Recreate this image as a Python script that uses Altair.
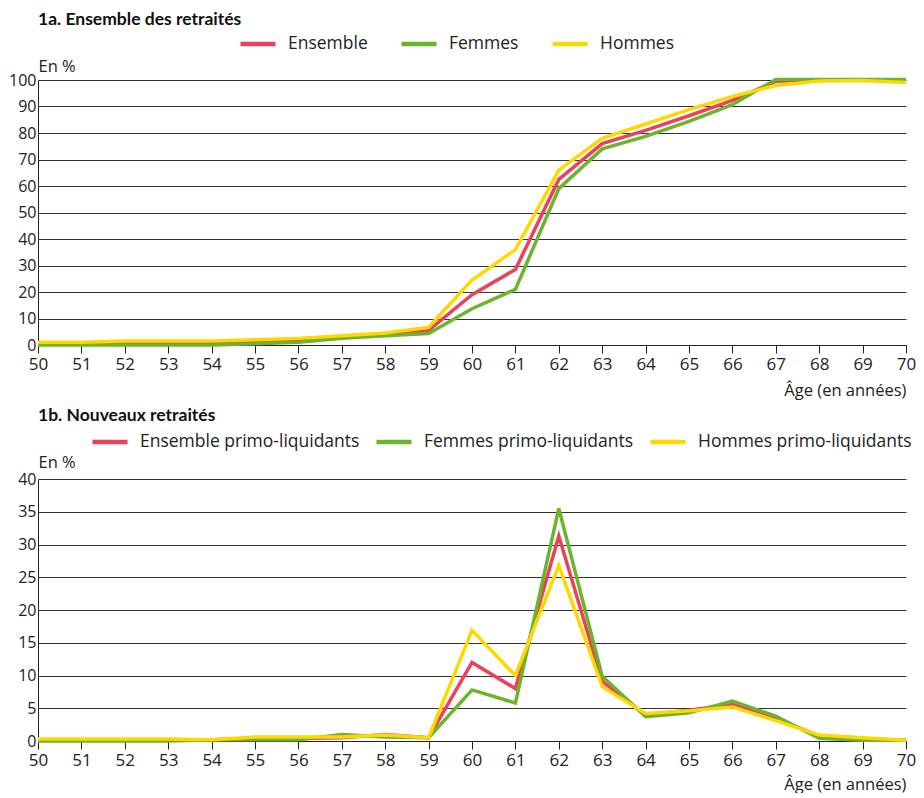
import altair as alt
import pandas as pd

ages = list(range(50, 71))

# 1a. Ensemble des retraités (en %)
series_a = ["Ensemble", "Femmes", "Hommes"]
ens_a = [0.5, 0.5, 1, 1, 1, 1.5, 2, 3, 4, 5.5, 19, 28.5, 62.5, 76, 81, 86.5, 92.3, 99.5, 100, 100, 100]
fem_a = [0, 0, 0, 0, 0, 0.5, 1, 2.5, 3.5, 4.3, 13.7, 21, 59, 74, 78.7, 84.4, 90.7, 100.2, 100.2, 100.2, 100.2]
hom_a = [1, 1, 1.5, 1.5, 1.5, 2, 2.5, 3.5, 4.5, 6.7, 24.5, 36, 66, 78, 83.4, 88.8, 93.8, 97.9, 99.6, 99.8, 99.1]

# 1b. Nouveaux retraités (en %)
series_b = ["Ensemble primo-liquidants", "Femmes primo-liquidants", "Hommes primo-liquidants"]
ens_b = [0.1, 0.1, 0.1, 0.1, 0.2, 0.4, 0.4, 0.5, 1.0, 0.5, 12.0, 8.0, 31.3, 9.1, 4.0, 4.7, 5.6, 3.4, 0.8, 0.3, 0.1]
fem_b = [0, 0, 0, 0, 0.2, 0.2, 0.2, 1.0, 0.6, 0.5, 7.8, 5.8, 35.5, 9.9, 3.7, 4.3, 6.1, 3.8, 0.4, 0.1, 0.1]
hom_b = [0.3, 0.3, 0.3, 0.3, 0.2, 0.6, 0.6, 0.6, 0.9, 0.5, 16.9, 10.0, 26.8, 8.3, 4.2, 4.6, 5.2, 3.1, 0.9, 0.5, 0.1]

ticks_a = list(range(0, 101, 10))
ticks_b = list(range(0, 41, 5))

colors = ["#E8435A", "#6DB42E", "#FFD800"]
FONT = "Open Sans"
W = 868


def make_df(names, cols):
    rows = []
    for name, vals in zip(names, cols):
        for a, v in zip(ages, vals):
            rows.append({"age": a, "value": v, "serie": name})
    return pd.DataFrame(rows)


def panel(df, names, title, ymax, yticks, h, legx, legy, colpad, xtitle_y,
          ytitle_y, toff):
    return alt.Chart(df).mark_line(strokeWidth=3.5).encode(
        x=alt.X("age:Q",
                scale=alt.Scale(domain=[50, 70], nice=False),
                axis=alt.Axis(values=ages, format="d", title="Âge (en années)",
                              titleX=W, titleY=xtitle_y, titleAlign="right",
                              titleBaseline="alphabetic",
                              titleFontWeight="normal", titleFontSize=16.5,
                              titleColor="#222", grid=False, ticks=True, tickSize=8,
                              tickColor="#222", domainColor="#222",
                              labelFontSize=17, labelColor="#222", labelPadding=3,
                              labelFlush=False)),
        y=alt.Y("value:Q",
                scale=alt.Scale(domain=[0, ymax], nice=False, zero=True),
                axis=alt.Axis(values=yticks, title="En %", titleAngle=0,
                              titleAlign="left", titleX=0, titleY=ytitle_y,
                              titleBaseline="alphabetic",
                              titleFontWeight="normal", titleFontSize=16.5,
                              titleColor="#222", ticks=False, grid=True,
                              gridColor="#333", gridWidth=1, gridOpacity=1,
                              domainColor="#222", labelFontSize=16,
                              labelColor="#222", labelPadding=2)),
        color=alt.Color("serie:N",
                        scale=alt.Scale(domain=names, range=colors),
                        legend=alt.Legend(title=None, orient="none",
                                          legendX=legx, legendY=legy,
                                          direction="horizontal",
                                          symbolType="stroke",
                                          symbolStrokeWidth=4.5,
                                          symbolSize=1225,
                                          labelFontSize=17.5, labelColor="#222",
                                          labelOffset=10, columnPadding=colpad,
                                          labelLimit=400)),
    ).properties(
        width=W, height=h,
        title=alt.Title(title, anchor="start", frame="group", fontSize=17.5,
                        font="Lato", fontWeight="bold", color="#111", offset=toff),
    )


chart_a = panel(make_df(series_a, [ens_a, fem_a, hom_a]), series_a,
                "1a. Ensemble des retraités", 100, ticks_a, 265,
                200, -56, 24, 50, -9, -4)
chart_b = panel(make_df(series_b, [ens_b, fem_b, hom_b]), series_b,
                "1b. Nouveaux retraités", 40, ticks_b, 262,
                52, -57, 7, 48, -12, -2)

chart = alt.vconcat(chart_a, chart_b, spacing=7).resolve_scale(
    color="independent").resolve_legend(color="independent").configure(
    font=FONT).configure_view(stroke=None).properties(
    padding={"left": 0, "top": 2, "right": 0, "bottom": 0})

chart.save("out.html", embed_options={"renderer": "svg", "actions": False})
